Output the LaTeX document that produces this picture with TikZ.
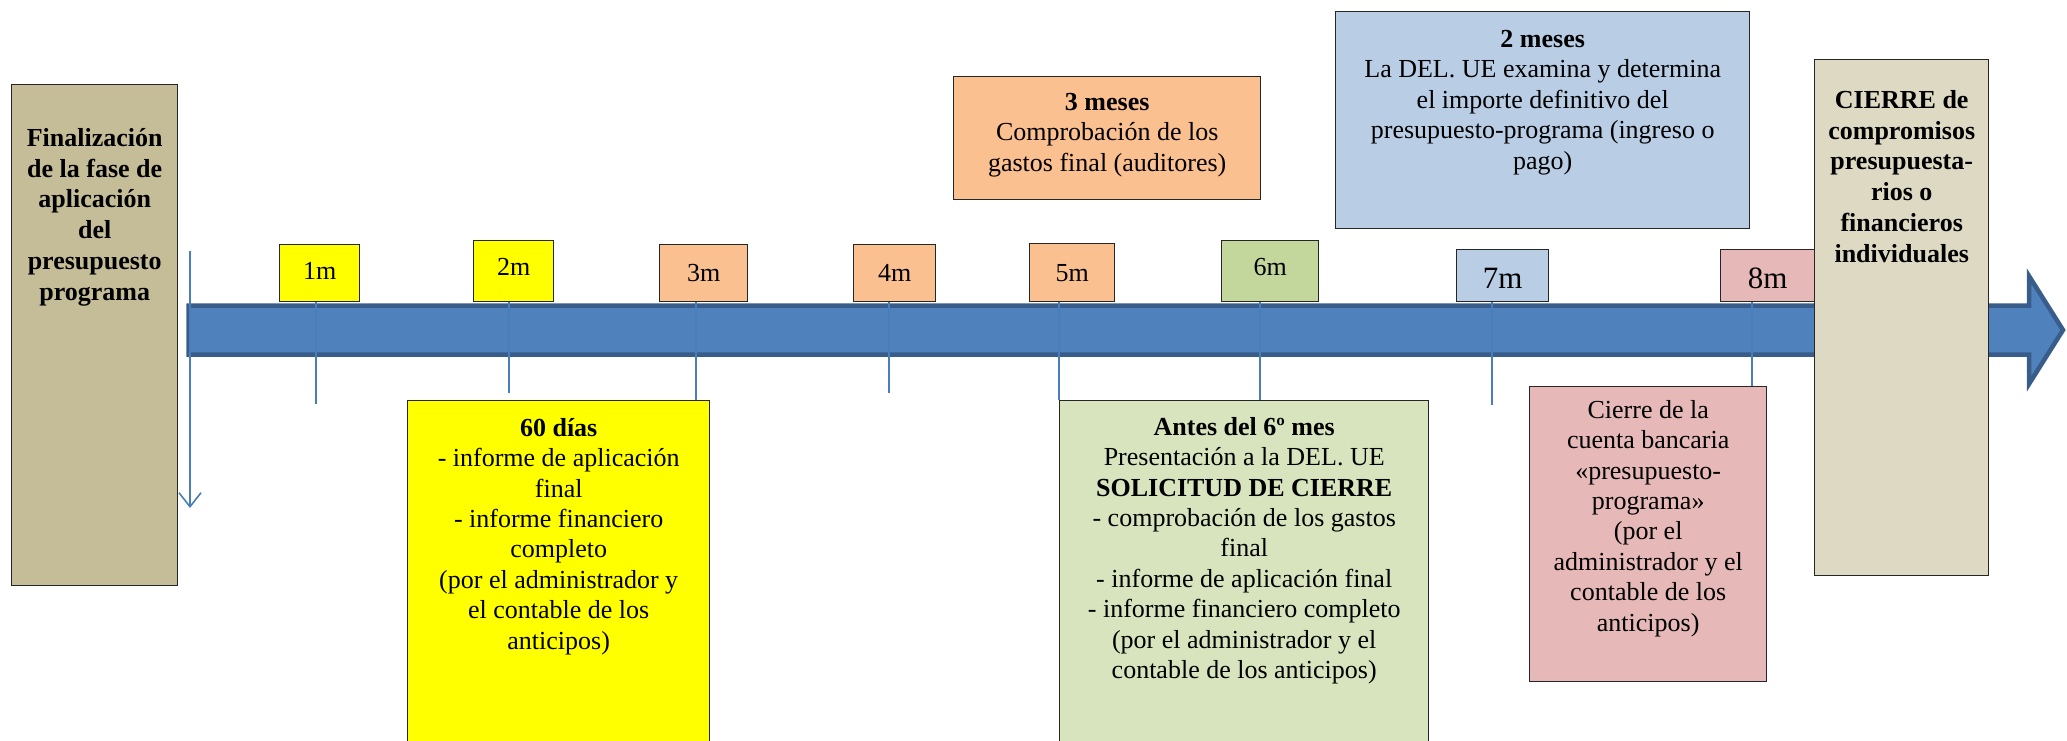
\documentclass[tikz,border=0pt]{standalone}
\usepackage{fontspec}
\setmainfont{Liberation Serif}
\usetikzlibrary{arrows.meta}
\definecolor{tanA}{HTML}{C4BD97}
\definecolor{tanB}{HTML}{DDD9C3}
\definecolor{ylw}{HTML}{FFFF00}
\definecolor{orng}{HTML}{FAC090}
\definecolor{grnA}{HTML}{C3D69B}
\definecolor{grnB}{HTML}{D7E4BD}
\definecolor{bluA}{HTML}{B9CDE5}
\definecolor{pnk}{HTML}{E6B9B8}
\definecolor{shaft}{HTML}{4F81BD}
\definecolor{shaftdk}{HTML}{385D8A}
\definecolor{tickblue}{HTML}{4A7EBB}
\newcommand{\fs}{\fontsize{26}{30.4}\selectfont}
\newcommand{\fsb}{\fontsize{26}{30.8}\selectfont\bfseries}
\newcommand{\fb}{\fontsize{31}{35}\selectfont}
\tikzset{
  box/.style={draw=black!85, line width=1.4pt, rectangle, inner sep=0pt, anchor=north west},
  txt/.style={align=center, inner sep=0pt, font=\fs, anchor=north},
  lbl/.style={inner sep=0pt, font=\fs, anchor=center},
  tickline/.style={draw=tickblue, line width=1.6pt},
}
\begin{document}
\begin{tikzpicture}[x=1pt,y=-1pt]
\useasboundingbox (0,0) rectangle (2067,741);
\clip (0,0) rectangle (2067,741);
% timeline arrow
\path[fill=shaft, draw=shaftdk, line width=4.5pt, line join=miter]
  (188.5,305.5) -- (2029,305.5) -- (2029,276) -- (2063,330) -- (2029,384) -- (2029,354.5) -- (188.5,354.5) -- cycle;
% left box
\node[box, fill=tanA, minimum width=166, minimum height=501] (left) at (11,84) {};
\node[txt, font=\fsb] (leftT) at ([yshift=-44pt]left.north) {Finalización\\de la fase de\\aplicación\\del\\presupuesto\\programa};
% down arrow
\coordinate (da1) at (190,251);
\coordinate (da2) at (190,508);
\draw[tickline, -{Straight Barb[length=14pt,width=22pt,line width=1.6pt]}] (da1) -- (da2);
% month boxes
\node[box, fill=ylw, minimum width=80, minimum height=57] (m1) at (279,244) {};
\node[lbl] (m1t) at ([yshift=2pt]m1.center) {1m};
\node[box, fill=ylw, minimum width=80, minimum height=61] (m2) at (473,240) {};
\node[lbl] (m2t) at ([yshift=4pt]m2.center) {2m};
\node[box, fill=orng, minimum width=88, minimum height=57] (m3) at (659,244) {};
\node[lbl] (m3t) at (m3.center) {3m};
\node[box, fill=orng, minimum width=82, minimum height=57] (m4) at (853,244) {};
\node[lbl] (m4t) at (m4.center) {4m};
\node[box, fill=orng, minimum width=85, minimum height=58] (m5) at (1029,243) {};
\node[lbl] (m5t) at (m5.center) {5m};
\node[box, fill=grnA, minimum width=97, minimum height=61] (m6) at (1221,240) {};
\node[lbl] (m6t) at ([yshift=4pt]m6.center) {6m};
\node[box, fill=bluA, minimum width=92, minimum height=52] (m7) at (1456,249) {};
\node[lbl, font=\fb] (m7t) at ([yshift=-3pt]m7.center) {7m};
\node[box, fill=pnk, minimum width=94, minimum height=52] (m8) at (1720,249) {};
\node[lbl, font=\fb] (m8t) at ([yshift=-3pt]m8.center) {8m};
% lower boxes
\node[box, fill=ylw, minimum width=302, minimum height=360] (b60) at (407,400) {};
\node[txt] (b60t) at ([yshift=-18pt]b60.north) {\textbf{60 días}\\- informe de aplicación\\final\\- informe financiero\\completo\\(por el administrador y\\el contable de los\\anticipos)};
\node[box, fill=grnB, minimum width=369, minimum height=360] (bA) at (1059,400) {};
\node[txt] (bAt) at ([yshift=-17pt]bA.north) {\textbf{Antes del 6º mes}\\Presentación a la DEL. UE\\\textbf{SOLICITUD DE CIERRE}\\- comprobación de los gastos\\final\\- informe de aplicación final\\- informe financiero completo\\(por el administrador y el\\contable de los anticipos)};
\node[box, fill=pnk, minimum width=237, minimum height=295] (bC) at (1529,386) {};
\node[txt] (bCt) at ([yshift=-14pt]bC.north) {Cierre de la\\cuenta bancaria\\«presupuesto-\\programa»\\(por el\\administrador y el\\contable de los\\anticipos)};
% upper boxes
\node[box, fill=orng, minimum width=307, minimum height=123] (b3) at (953,76) {};
\node[txt] (b3t) at ([yshift=-17pt]b3.north) {\textbf{3 meses}\\Comprobación de los\\gastos final (auditores)};
\node[box, fill=bluA, minimum width=414, minimum height=217] (b2) at (1335,11) {};
\node[txt] (b2t) at ([yshift=-19pt]b2.north) {\textbf{2 meses}\\La DEL. UE examina y determina\\el importe definitivo del\\presupuesto-programa (ingreso o\\pago)};
% ticks
\coordinate (e1) at (316,404);
\coordinate (e2) at (509,393);
\coordinate (e3) at (696,400);
\coordinate (e4) at (889,393);
\coordinate (e5) at (1059,400);
\coordinate (e6) at (1260,400);
\coordinate (e7) at (1492,405);
\coordinate (e8) at (1752,386);
\draw[tickline] (e1 |- m1.south) -- (e1);
\draw[tickline] (e2 |- m2.south) -- (e2);
\draw[tickline] (e3 |- m3.south) -- (e3);
\draw[tickline] (e4 |- m4.south) -- (e4);
\draw[tickline] (e5 |- m5.south) -- (e5);
\draw[tickline] (e6 |- m6.south) -- (e6);
\draw[tickline] (e7 |- m7.south) -- (e7);
\draw[tickline] (e8 |- m8.south) -- (e8);
% closing box
\node[box, fill=tanB, minimum width=174, minimum height=516] (cl) at (1814,59) {};
\node[txt, font=\fsb] (clT) at ([yshift=-31pt]cl.north) {CIERRE de\\compromisos\\presupuesta-\\rios o\\financieros\\individuales};
\end{tikzpicture}
\end{document}
